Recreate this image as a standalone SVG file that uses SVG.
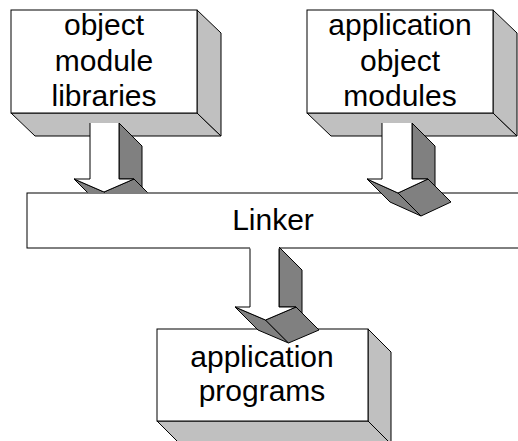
<svg xmlns="http://www.w3.org/2000/svg" width="518" height="441" viewBox="0 0 518 441">
<style>
.front{fill:#fff;stroke:#000;stroke-width:1}
.side{fill:#c0c0c0;stroke:#000;stroke-width:1;stroke-linejoin:round}
.dark{fill:#808080;stroke:#000;stroke-width:1;stroke-linejoin:round}
.face{fill:#fff;stroke:none}
.edge{fill:none;stroke:#000;stroke-width:1;stroke-linejoin:round}
text{font-family:"Liberation Sans",Arial,sans-serif;font-size:30px;fill:#000;text-anchor:middle}
</style>
<defs>
<clipPath id="aboveLinker"><rect x="0" y="0" width="518" height="192.5"/></clipPath>
</defs>
<g id="nodes">
<g id="object-module-libraries">
<polygon class="side" points="11,113 197,113 221,136 35,136"/>
<polygon class="side" points="197,10 221,33 221,136 197,113"/>
<rect class="front" x="11" y="10" width="186" height="103"/>
<text x="104" y="35">object</text>
<text x="104" y="71">module</text>
<text x="104" y="106">libraries</text>
</g>
<g id="application-object-modules">
<polygon class="side" points="307,113 493,113 517,136 331,136"/>
<polygon class="side" points="493,10 517,33 517,136 493,113"/>
<rect class="front" x="307" y="10" width="186" height="103"/>
<text x="400" y="35">application</text>
<text x="400" y="71">object</text>
<text x="400" y="106">modules</text>
</g>
<g id="linker">
<rect class="front" x="27" y="193" width="500" height="55"/>
<text x="273" y="230">Linker</text>
</g>
<g id="application-programs">
<polygon class="side" points="157,421 368,421 391,444 180,444"/>
<polygon class="side" points="368,329 391,352 391,444 368,421"/>
<rect class="front" x="157" y="329" width="211" height="92"/>
<text x="262" y="367">application</text>
<text x="262" y="401">programs</text>
</g>
</g>
<g id="connectors">
<g id="arrow-libraries-linker" clip-path="url(#aboveLinker)">
<polygon class="dark" points="74,179 104,192 127,215 97,202"/>
<polygon class="dark" points="104,192 134,179 157,202 127,215"/>
<polygon class="dark" points="119,123 142,146 142,187 134,179 119,179"/>
<polygon class="face" points="90,123 119,123 119,179 134,179 104,192 74,179 90,179"/>
<polyline class="edge" points="90,123 90,179 74,179 104,192 134,179 119,179 119,123"/>
</g>
<g id="arrow-modules-linker">
<polygon class="dark" points="367,179 398,193 421,216 390,202"/>
<polygon class="dark" points="398,193 428,179 451,202 421,216"/>
<polygon class="dark" points="412,123 435,146 435,186 428,179 412,179"/>
<polygon class="face" points="382,123 412,123 412,179 428,179 398,193 367,179 382,179"/>
<polyline class="edge" points="382,123 382,179 367,179 398,193 428,179 412,179 412,123"/>
</g>
<g id="arrow-linker-programs">
<polygon class="dark" points="235,307 265.5,320 288.5,343 258,330"/>
<polygon class="dark" points="265.5,320 296,307 319,330 288.5,343"/>
<polygon class="dark" points="279,247 302,270 302,313 296,307 279,307"/>
<polygon class="face" points="250,247 279,247 279,307 296,307 265.5,320 235,307 250,307"/>
<polyline class="edge" points="250,248.5 250,307 235,307 265.5,320 296,307 279,307 279,248.5"/>
</g>
</g>
</svg>
